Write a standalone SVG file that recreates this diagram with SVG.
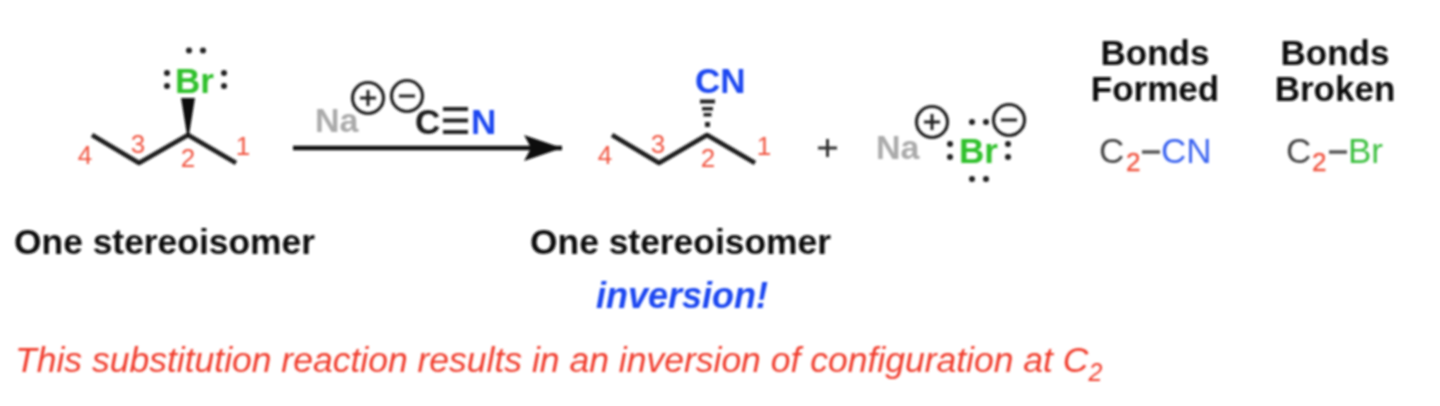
<svg xmlns="http://www.w3.org/2000/svg" width="1440" height="406" viewBox="0 0 1440 406">
<style>
text{font-family:"Liberation Sans",Arial,sans-serif}
.b{font-weight:700}
.num{font-size:26px;fill:#f0533f;text-anchor:middle}
.bond{fill:none;stroke:#1a1a1a;stroke-width:4.5;stroke-linejoin:round;stroke-linecap:butt}
.dot{fill:#222}
.ch{fill:none;stroke:#222;stroke-width:3.2}
.sign{stroke:#222;stroke-width:3;fill:none}
.head{font-size:35px;font-weight:700;fill:#111;text-anchor:middle}
.lab{font-weight:700;fill:#aaa}
.cap{font-size:35.400px;font-weight:700;fill:#111}
.f{font-size:35px}
.sub{font-size:26px;fill:#f0533f;stroke:#f0533f;stroke-width:0.4}
</style>
<defs>
<filter id="soft" x="0" y="0" width="1440" height="406" filterUnits="userSpaceOnUse"><feGaussianBlur stdDeviation="0.9"/></filter>
<marker id="arr" markerUnits="userSpaceOnUse" markerWidth="42" markerHeight="28" refX="38" refY="14" orient="auto"><path d="M0 1 L38 14 L0 27 L7 14 Z" fill="#111"/></marker>
</defs>
<rect width="1440" height="406" fill="#fff"/>
<g filter="url(#soft)">
<g id="reactant">
<polyline class="bond" points="92,135 139,163 188,135 236,163"/>
<path d="M181,98 L195,98 L189,135 L187,135 Z" fill="#111"/>
<text class="b" x="175" y="93" font-size="35" fill="#2fc02a">Br</text>
<circle class="dot" cx="189" cy="50.500" r="3"/><circle class="dot" cx="203" cy="50.500" r="3"/>
<circle class="dot" cx="167" cy="73" r="3"/><circle class="dot" cx="167" cy="86" r="3"/>
<circle class="dot" cx="224" cy="73" r="3"/><circle class="dot" cx="224" cy="86" r="3"/>
<text class="num" x="85" y="164">4</text><text class="num" x="138" y="153">3</text><text class="num" x="188" y="167">2</text><text class="num" x="243" y="155">1</text>
</g>
<g id="reagent">
<text class="lab" x="315" y="132" font-size="34">Na</text>
<circle class="ch" cx="368" cy="98" r="15.500"/><path class="sign" d="M360 98H376M368 90V106"/>
<circle class="ch" cx="407" cy="96" r="15.500"/><path class="sign" d="M399 96H415"/>
<text class="b" x="415" y="133.500" font-size="35" fill="#1a1a1a">C</text>
<path d="M443 109H468M443 120.500H468M443 132H468" stroke="#222" stroke-width="4"/>
<text class="b" x="471" y="133.500" font-size="35" fill="#1a46f0">N</text>
</g>
<g id="connectors">
<line x1="293" y1="148" x2="562" y2="148" stroke="#111" stroke-width="4.500" marker-end="url(#arr)"/>
</g>
<g id="product">
<polyline class="bond" points="612,135 659,163 707,135 755,163"/>
<text class="b" x="695" y="93" font-size="35" fill="#1a46f0">CN</text>
<path d="M700 99.500H715V103.500H700ZM702 107H713V110.500H702ZM703.500 113H711.500V116.500H703.500ZM705 122H710V127H705Z" fill="#222"/>
<text class="num" x="605" y="164">4</text><text class="num" x="658" y="153">3</text><text class="num" x="708" y="167">2</text><text class="num" x="764" y="155">1</text>
</g>
<g id="plus">
<path d="M818 148H837M827.500 139V157" stroke="#333" stroke-width="3" fill="none"/>
</g>
<g id="salt">
<text class="lab" x="876" y="159" font-size="34">Na</text>
<circle class="ch" cx="932" cy="122" r="15.500"/><path class="sign" d="M924 122H940M932 114V130"/>
<circle class="ch" cx="1009" cy="120" r="15.500"/><path class="sign" d="M1001 120H1017"/>
<text class="b" x="959" y="163" font-size="35" fill="#2fc02a">Br</text>
<circle class="dot" cx="972" cy="122" r="3"/><circle class="dot" cx="986" cy="122" r="3"/>
<circle class="dot" cx="950" cy="144" r="3"/><circle class="dot" cx="950" cy="157" r="3"/>
<circle class="dot" cx="1008" cy="144" r="3"/><circle class="dot" cx="1008" cy="157" r="3"/>
<circle class="dot" cx="972" cy="179" r="3"/><circle class="dot" cx="986" cy="179" r="3"/>
</g>
<g id="bonds-formed">
<text class="head" x="1155" y="65">Bonds</text>
<text class="head" x="1155" y="101">Formed</text>
<text class="f" x="1099" y="163" fill="#444">C</text>
<text class="sub" x="1126" y="171">2</text>
<path d="M1142 152H1160" stroke="#555" stroke-width="3.500"/>
<text class="f" x="1161" y="163" fill="#3b64f0">CN</text>
</g>
<g id="bonds-broken">
<text class="head" x="1335" y="65">Bonds</text>
<text class="head" x="1335" y="101">Broken</text>
<text class="f" x="1286" y="163" fill="#444">C</text>
<text class="sub" x="1312" y="171">2</text>
<path d="M1329 152H1347" stroke="#555" stroke-width="3.500"/>
<text class="f" x="1348" y="163" fill="#3cc040">Br</text>
</g>
<g id="captions">
<text class="cap" x="14" y="254">One stereoisomer</text>
<text class="cap" x="530" y="254">One stereoisomer</text>
<text x="596" y="308" font-size="36" font-weight="700" font-style="italic" fill="#1a46f0">inversion!</text>
<text x="15" y="372" font-size="35.500" font-style="italic" fill="#f03a2a">This substitution reaction results in an inversion of configuration at C<tspan font-size="25" dy="9">2</tspan></text>
</g>
</g>
</svg>
